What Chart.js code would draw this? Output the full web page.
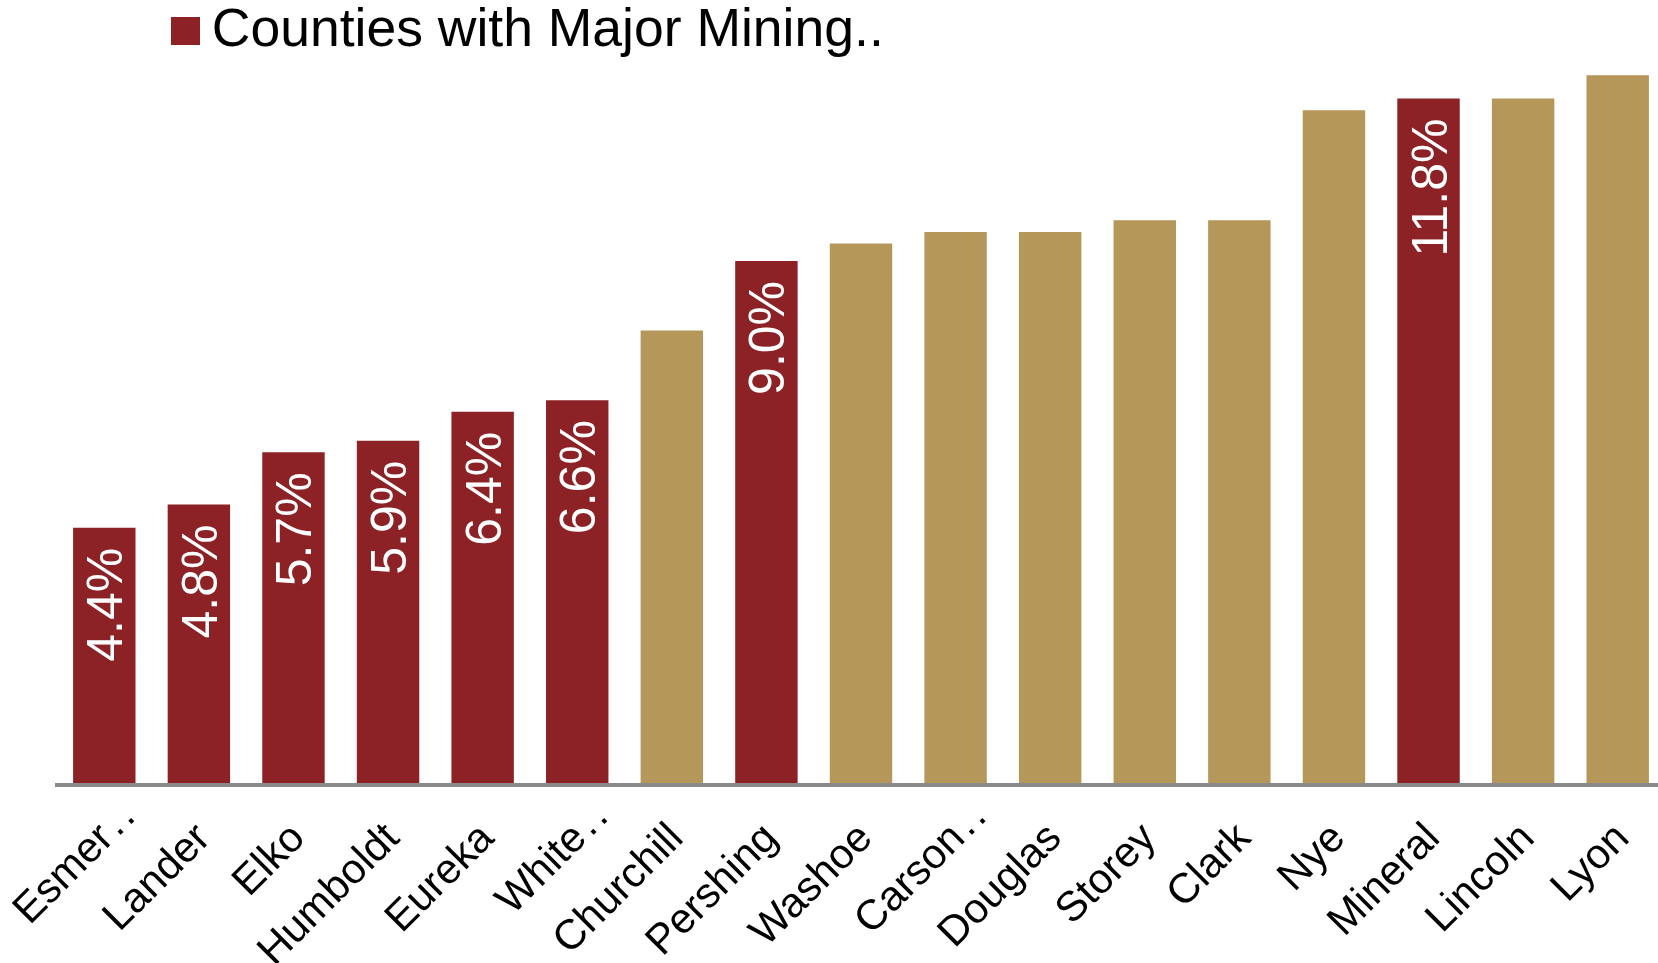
<!DOCTYPE html>
<html lang="en">
<head>
<meta charset="UTF-8">
<title>Counties with Major Mining</title>
<style>
  html, body { margin: 0; padding: 0; background: #fff; }
  #wrap { width: 1658px; height: 963px; }
</style>
</head>
<body>
<div id="wrap"><canvas id="chart"></canvas></div>

<script src="https://cdn.jsdelivr.net/npm/chart.js"></script>
<script>
const counties = ['Esmer\u200A.\u200A.', 'Lander', 'Elko', 'Humboldt', 'Eureka', 'White\u200A.\u200A.', 'Churchill', 'Pershing', 'Washoe',
    'Carson\u200A.\u200A.', 'Douglas', 'Storey', 'Clark', 'Nye', 'Mineral', 'Lincoln', 'Lyon'];
const rates = [4.4, 4.8, 5.7, 5.9, 6.4, 6.6, 7.8, 9.0, 9.3, 9.5, 9.5, 9.7, 9.7, 11.6, 11.8, 11.8, 12.2];
const majorMining = [true, true, true, true, true, true, false, true, false,
    false, false, false, false, false, true, false, false];
const legendLabel = 'Counties with Major Mining..';

const RED = '#8C2226';
const GOLD = '#B5975A';
const TICK_FONT = '42px "Liberation Sans", Arial, sans-serif';

Chart.defaults.font.family = '"Liberation Sans", Arial, sans-serif';
Chart.defaults.color = '#000';

// legend swatch as a small canvas, so the gap to the text stays tight
const swatch = document.createElement('canvas');
swatch.width = 44;
swatch.height = 28;
const sctx = swatch.getContext('2d');
sctx.fillStyle = RED;
sctx.fillRect(15, 0, 29, 28);

// legend sits a bit in from the left, and the last category runs past the canvas edge
const layoutTweaks = {
    id: 'layoutTweaks',
    afterLayout(chart) {
        const lg = chart.legend;
        const w = lg.width;
        lg.left = 167;
        lg.right = 167 + w;

        const x = chart.scales.x;
        x.right = 1665;
        x.width = x.right - x.left;
        x.configure();
    },
    // truncated names hang their dots past the tick, like the original
    beforeDraw(chart) {
        const items = chart.scales.x.getLabelItems();
        const ctx = chart.ctx;
        ctx.save();
        ctx.font = TICK_FONT;
        items.forEach(item => {
            if (item._shifted) return;
            const m = /[\u200A.]+$/.exec(item.label);
            if (m) {
                const w = ctx.measureText(m[0]).width;
                const t = item.options.translation;
                item.options.translation = [t[0] + w * 0.707 - 2, t[1] - w * 0.707];
            }
            item._shifted = true;
        });
        ctx.restore();
    }
};

// white rotated value labels inside the mining bars
const barLabels = {
    id: 'barLabels',
    afterDatasetsDraw(chart) {
        const ctx = chart.ctx;
        const meta = chart.getDatasetMeta(0);
        ctx.save();
        ctx.fillStyle = '#fff';
        ctx.font = '50px "Liberation Sans", Arial, sans-serif';
        ctx.textAlign = 'right';
        ctx.textBaseline = 'alphabetic';
        meta.data.forEach((bar, i) => {
            if (!majorMining[i]) return;
            ctx.save();
            ctx.translate(bar.x, bar.y + 20);
            ctx.rotate(-Math.PI / 2);
            ctx.fillText(rates[i].toFixed(1) + '%', 0, 18);
            ctx.restore();
        });
        ctx.restore();
    }
};

new Chart(document.getElementById('chart'), {
    type: 'bar',
    data: {
        labels: counties,
        datasets: [{
            label: legendLabel,
            data: rates,
            backgroundColor: majorMining.map(m => m ? RED : GOLD),
            borderWidth: 0,
            categoryPercentage: 1,
            barPercentage: 0.66
        }]
    },
    options: {
        responsive: true,
        maintainAspectRatio: false,
        animation: false,
        layout: { padding: { left: 57, right: 0, top: 0, bottom: 0 } },
        plugins: {
            legend: {
                position: 'top',
                align: 'start',
                labels: {
                    font: { size: 53.5 },
                    color: '#000',
                    usePointStyle: true,
                    pointStyleWidth: 14,
                    boxHeight: 28,
                    padding: 4,
                    generateLabels: () => [{
                        text: legendLabel,
                        fillStyle: RED,
                        strokeStyle: RED,
                        lineWidth: 0,
                        pointStyle: swatch,
                        hidden: false,
                        datasetIndex: 0
                    }]
                }
            },
            tooltip: { enabled: false }
        },
        scales: {
            x: {
                z: 1,
                grid: { display: false, drawTicks: false },
                border: { display: true, color: '#8A8A8A', width: 4 },
                ticks: {
                    autoSkip: false,
                    minRotation: 45,
                    maxRotation: 45,
                    padding: 29,
                    labelOffset: 5,
                    font: { size: 42 },
                    color: '#000'
                },
                afterFit: scale => {
                    scale.height = 178;
                    scale.paddingLeft = 0;
                    scale.paddingRight = 0;
                }
            },
            y: {
                display: false,
                min: -0.0345,
                max: 12.335
            }
        }
    },
    plugins: [layoutTweaks, barLabels]
});
</script>
</body>
</html>
